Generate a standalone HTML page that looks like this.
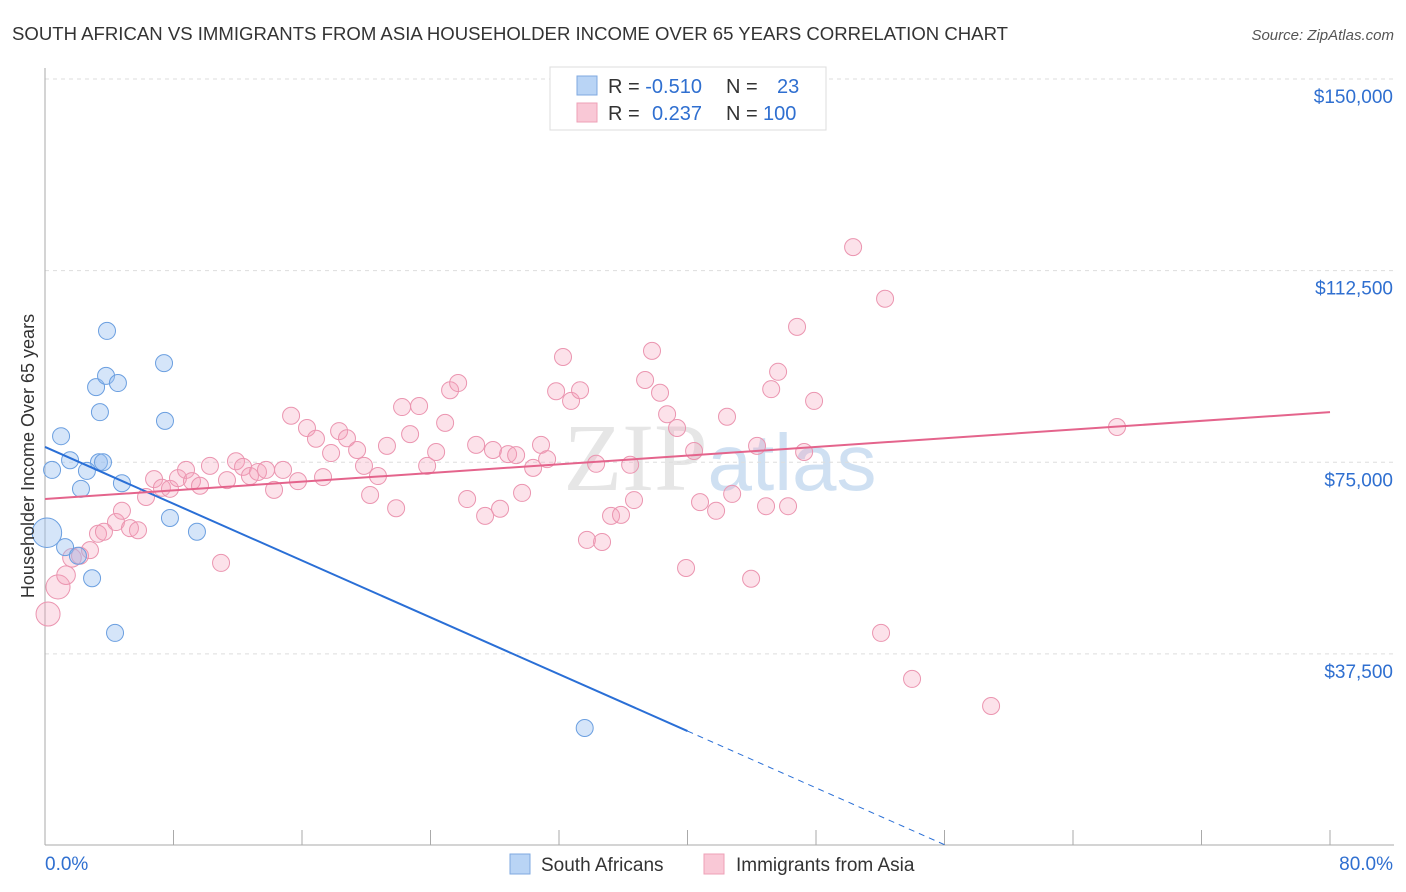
<!DOCTYPE html>
<html><head><meta charset="utf-8"><style>
body{margin:0;background:#fff;font-family:"Liberation Sans",sans-serif;}
svg{display:block}
</style></head><body>
<svg id="chart" width="1406" height="892">
<text x="12" y="40" font-size="18" fill="#333" textLength="996" lengthAdjust="spacingAndGlyphs">SOUTH AFRICAN VS IMMIGRANTS FROM ASIA HOUSEHOLDER INCOME OVER 65 YEARS CORRELATION CHART</text>
<text x="1394" y="40" font-size="15" fill="#555" font-style="italic" text-anchor="end">Source: ZipAtlas.com</text>
<text x="720" y="490" font-size="96" fill="#e6e6e6" text-anchor="middle" font-family="Liberation Serif">ZIP<tspan fill="#cfe0f2" font-family="Liberation Sans" font-size="80">atlas</tspan></text>
<g id="grid"></g><g id="axes"></g><g id="pts"></g><g id="trend"></g>
<text transform="translate(34,456) rotate(-90)" font-size="18" fill="#333" text-anchor="middle">Householder Income Over 65 years</text>
<g>
<rect x="550" y="67" width="276" height="63" fill="#fff" stroke="#ddd"/>
<rect x="577" y="76" width="20" height="19" fill="#b9d4f5" stroke="#7fa9e0"/>
<rect x="577" y="103" width="20" height="19" fill="#f9c8d6" stroke="#eea0b7"/>
<text x="608" y="93" font-size="20" fill="#333">R = <tspan fill="#2f6fd0">-0.510</tspan><tspan x="726">N =</tspan><tspan x="777" fill="#2f6fd0">23</tspan></text>
<text x="608" y="120" font-size="20" fill="#333">R = <tspan x="652" fill="#2f6fd0">0.237</tspan><tspan x="726">N =</tspan><tspan x="763" fill="#2f6fd0">100</tspan></text>
</g>
<g>
<rect x="510" y="854" width="20" height="20" fill="#b9d4f5" stroke="#7fa9e0"/>
<text x="541" y="871" font-size="19" fill="#333">South Africans</text>
<rect x="704" y="854" width="20" height="20" fill="#f9c8d6" stroke="#eea0b7"/>
<text x="736" y="871" font-size="19" fill="#333">Immigrants from Asia</text>
</g>
</svg>
<script>
const yTicks=[37500,75000,112500,150000];
const yTickLabels=["$37,500","$75,000","$112,500","$150,000"];
const blueX=[0.44,1.0,1.56,3.36,3.61,2.61,2.24,4.79,3.86,3.18,3.80,4.54,3.42,7.41,7.47,7.78,9.46,0.12,1.25,2.05,2.93,4.36,33.6];
const blueY=[73.5,80.1,75.4,75.0,75.0,73.3,69.8,70.9,100.7,89.7,91.9,90.5,84.8,94.4,83.1,64.1,61.4,61.2,58.4,56.7,52.3,41.6,23.0];
const blueSize=[1,1,1,1,1,1,1,1,1,1,1,1,1,1,1,1,1,3,1,1,1,1,1];
const pinkX=[0.19,0.81,1.31,1.68,2.18,2.80,3.30,3.67,4.42,4.79,5.29,5.79,6.29,6.79,7.28,7.78,8.28,8.78,9.15,9.65,10.27,10.96,11.33,11.89,12.33,12.76,13.26,13.76,14.26,14.82,15.32,15.75,16.31,16.87,17.31,17.81,18.31,18.80,19.43,19.86,20.24,20.73,21.29,21.86,22.23,22.73,23.29,23.79,24.35,24.91,25.22,25.72,26.28,26.84,27.40,27.89,28.33,28.83,29.33,29.70,30.39,30.88,31.26,31.82,32.25,32.75,33.31,33.74,34.68,34.31,35.24,35.86,36.43,36.67,37.36,37.79,38.29,38.73,39.35,39.91,40.41,40.78,41.78,42.46,42.78,43.96,44.33,44.89,45.21,45.64,46.26,46.82,47.26,47.88,50.31,52.05,52.30,53.98,58.90,66.74];
const pinkY=[45.3,50.6,52.9,56.3,56.7,57.8,61.0,61.4,63.3,65.5,62.1,61.7,68.2,71.7,70.0,69.8,71.9,73.5,71.3,70.4,74.3,55.3,71.5,75.2,74.1,72.3,73.1,73.5,69.6,73.5,84.1,71.3,81.7,79.6,72.1,76.8,81.1,79.7,77.4,74.3,68.6,72.3,78.2,66.0,85.8,80.5,86.0,74.3,77.0,82.7,89.1,90.5,67.8,78.4,64.5,77.4,65.9,76.6,76.4,69.0,73.9,78.4,75.6,88.9,95.6,87.0,89.1,59.8,59.4,74.7,64.5,64.7,74.5,67.6,91.1,96.8,88.6,84.4,81.7,54.3,77.2,67.2,65.5,83.9,68.8,52.2,78.2,66.4,89.3,92.7,66.4,101.5,77.0,87.0,117.1,41.6,107.0,32.6,27.3,81.9];
const pinkSize=[2,2,1.2,1.2,1,1,1,1,1,1,1,1,1,1,1,1,1,1,1,1,1,1,1,1,1,1,1,1,1,1,1,1,1,1,1,1,1,1,1,1,1,1,1,1,1,1,1,1,1,1,1,1,1,1,1,1,1,1,1,1,1,1,1,1,1,1,1,1,1,1,1,1,1,1,1,1,1,1,1,1,1,1,1,1,1,1,1,1,1,1,1,1,1,1,1,1,1,1,1,1];
const blueTrend=[78.0,-1.39];
const pinkTrend=[67.8,0.2125];
const xs=p=>45+p*16.0625;
const ys=v=>845.5-v*1000*0.00511;
const NS="http://www.w3.org/2000/svg";
function mk(par,tag,at){const e=document.createElementNS(NS,tag);for(const k in at)e.setAttribute(k,at[k]);document.getElementById(par).appendChild(e);return e;}
yTicks.forEach((t,i)=>{
 const g=mk('grid','line',{x1:45,x2:1394,y1:ys(t/1000),y2:ys(t/1000),stroke:'#ddd','stroke-dasharray':'4,4'});
 
 
 const tx=mk('grid','text',{x:1393,y:ys(t/1000)+24,'font-size':19,fill:'#2f6fd0','text-anchor':'end'});
 tx.textContent=yTickLabels[i];
 
 
});
mk('axes','line',{x1:45,x2:45,y1:68,y2:845,stroke:'#aaa'});
mk('axes','line',{x1:45,x2:1394,y1:845,y2:845,stroke:'#aaa'});
for(let i=0;i<=10;i++){const l=mk('axes','line',{x1:xs(i*8),x2:xs(i*8),y1:830,y2:845,stroke:'#aaa'});
 
 }
let a=mk('axes','text',{x:45,y:870,'font-size':19,fill:'#2f6fd0'});a.textContent='0.0%';


a=mk('axes','text',{x:1393,y:870,'font-size':19,fill:'#2f6fd0','text-anchor':'end'});a.textContent='80.0%';


pinkX.forEach((x,i)=>{const c=mk('pts','circle',{cx:xs(x),cy:ys(pinkY[i]),r:8.5*Math.sqrt(pinkSize[i]),fill:'rgba(244,160,185,0.3)',stroke:'#eb95b0','stroke-width':1});
 
 });
blueX.forEach((x,i)=>{const c=mk('pts','circle',{cx:xs(x),cy:ys(blueY[i]),r:8.5*Math.sqrt(blueSize[i]),fill:'rgba(150,190,240,0.4)',stroke:'#6b9fe0','stroke-width':1});
 
 });
const bx1=40,bx2=-blueTrend[0]/blueTrend[1];
let t=mk('trend','line',{x1:xs(0),y1:ys(blueTrend[0]),x2:xs(bx1),y2:ys(blueTrend[0]+blueTrend[1]*bx1),stroke:'#2a6fd6','stroke-width':2});


t=mk('trend','line',{x1:xs(bx1),y1:ys(blueTrend[0]+blueTrend[1]*bx1),x2:xs(bx2),y2:ys(0),stroke:'#2a6fd6','stroke-width':1,'stroke-dasharray':'6,5'});


t=mk('trend','line',{x1:xs(0),y1:ys(pinkTrend[0]),x2:xs(80),y2:ys(pinkTrend[0]+pinkTrend[1]*80),stroke:'#e4648c','stroke-width':2});


</script>
</body></html>
